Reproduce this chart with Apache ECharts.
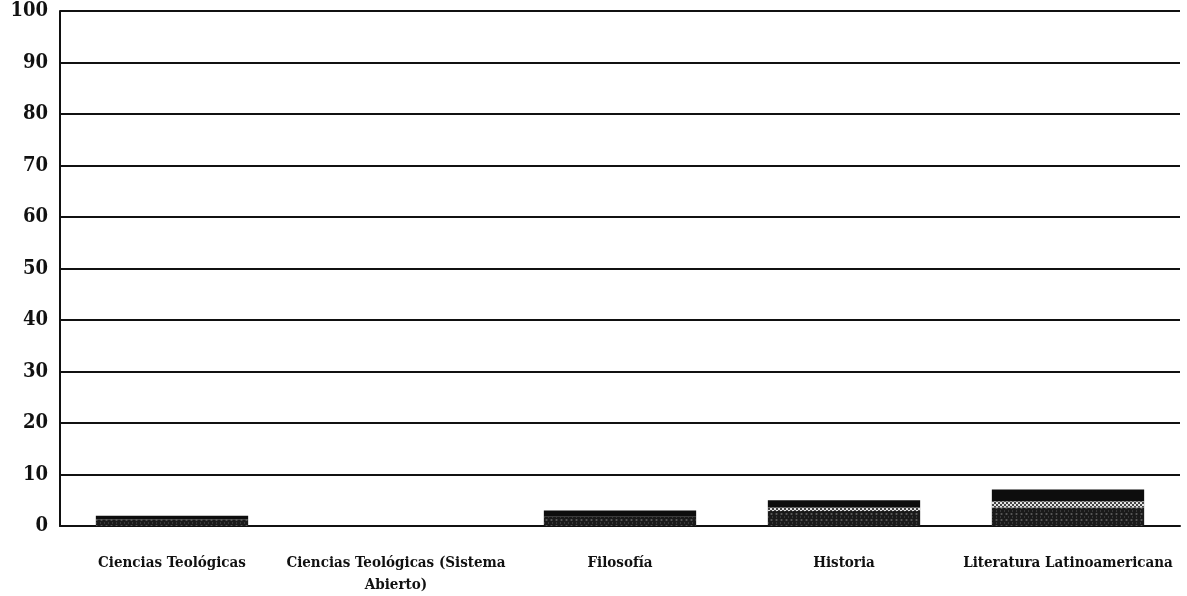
<!DOCTYPE html>
<html>
<head>
<meta charset="utf-8">
<script src="https://cdn.jsdelivr.net/npm/echarts@6/dist/echarts.min.js"></script>
<style>
  html, body { margin: 0; padding: 0; background: #fff; }
  #chart { width: 1187px; height: 596px; }
</style>
</head>
<body>
<div id="chart"></div>
<script>
// categories
var categories = ['Ciencias Teológicas', 'Ciencias Teológicas (Sistema Abierto)', 'Filosofía', 'Historia', 'Literatura Latinoamericana'];
// stacked segments, bottom to top
var lowerValues = [1.3, 0, 1.8, 2.9, 3.6];
var middleValues = [0, 0, 0, 0.7, 1.2];
var upperValues = [0.7, 0, 1.2, 1.4, 2.3];
var yTicks = [0, 10, 20, 30, 40, 50, 60, 70, 80, 90, 100];

var labelFont = '"DejaVu Serif Condensed", "Liberation Serif", serif';
var tickFont = '"DejaVu Serif Condensed", "DejaVu Serif", serif';

var chart = echarts.init(document.getElementById('chart'));

function seg(name, data, color, decal) {
    var s = {
        name: name,
        type: 'bar',
        stack: 'total',
        data: data,
        barWidth: '68%',
        itemStyle: { color: color },
        emphasis: { disabled: true }
    };
    if (decal) { s.itemStyle.decal = decal; }
    return s;
}

chart.setOption({
    animation: false,
    backgroundColor: '#fff',
    grid: { left: 60, right: 7, top: 11, bottom: 69 },
    xAxis: {
        type: 'category',
        data: categories,
        axisLine: { lineStyle: { color: '#111', width: 2 } },
        axisTick: { show: false },
        axisLabel: {
            interval: 0,
            margin: 26,
            color: '#111',
            fontFamily: labelFont,
            fontWeight: 'bold',
            fontSize: 15,
            lineHeight: 22,
            formatter: function (v) { return v.replace(' Abierto)', '\nAbierto)'); }
        }
    },
    yAxis: {
        type: 'value',
        min: yTicks[0],
        max: yTicks[yTicks.length - 1],
        interval: 10,
        axisLine: { show: true, lineStyle: { color: '#111', width: 2 } },
        axisTick: { show: false },
        splitLine: { lineStyle: { color: '#111', width: 2 } },
        axisLabel: {
            margin: 12,
            color: '#111',
            fontFamily: tickFont,
            fontWeight: 'bold',
            fontSize: 20
        }
    },
    series: [
        seg('lower', lowerValues, '#1a1a1a', {
            symbol: 'rect', symbolSize: 0.6, color: 'rgba(255,255,255,0.45)',
            dashArrayX: [[3, 2], [1, 3]], dashArrayY: [2, 1], rotation: 0
        }),
        seg('middle', middleValues, '#444', {
            symbol: 'rect', symbolSize: 1, color: 'rgba(255,255,255,0.85)',
            dashArrayX: [[2, 2], [0, 2, 2, 0]], dashArrayY: [2, 0]
        }),
        seg('upper', upperValues, '#0d0d0d', null)
    ]
});
</script>
</body>
</html>
